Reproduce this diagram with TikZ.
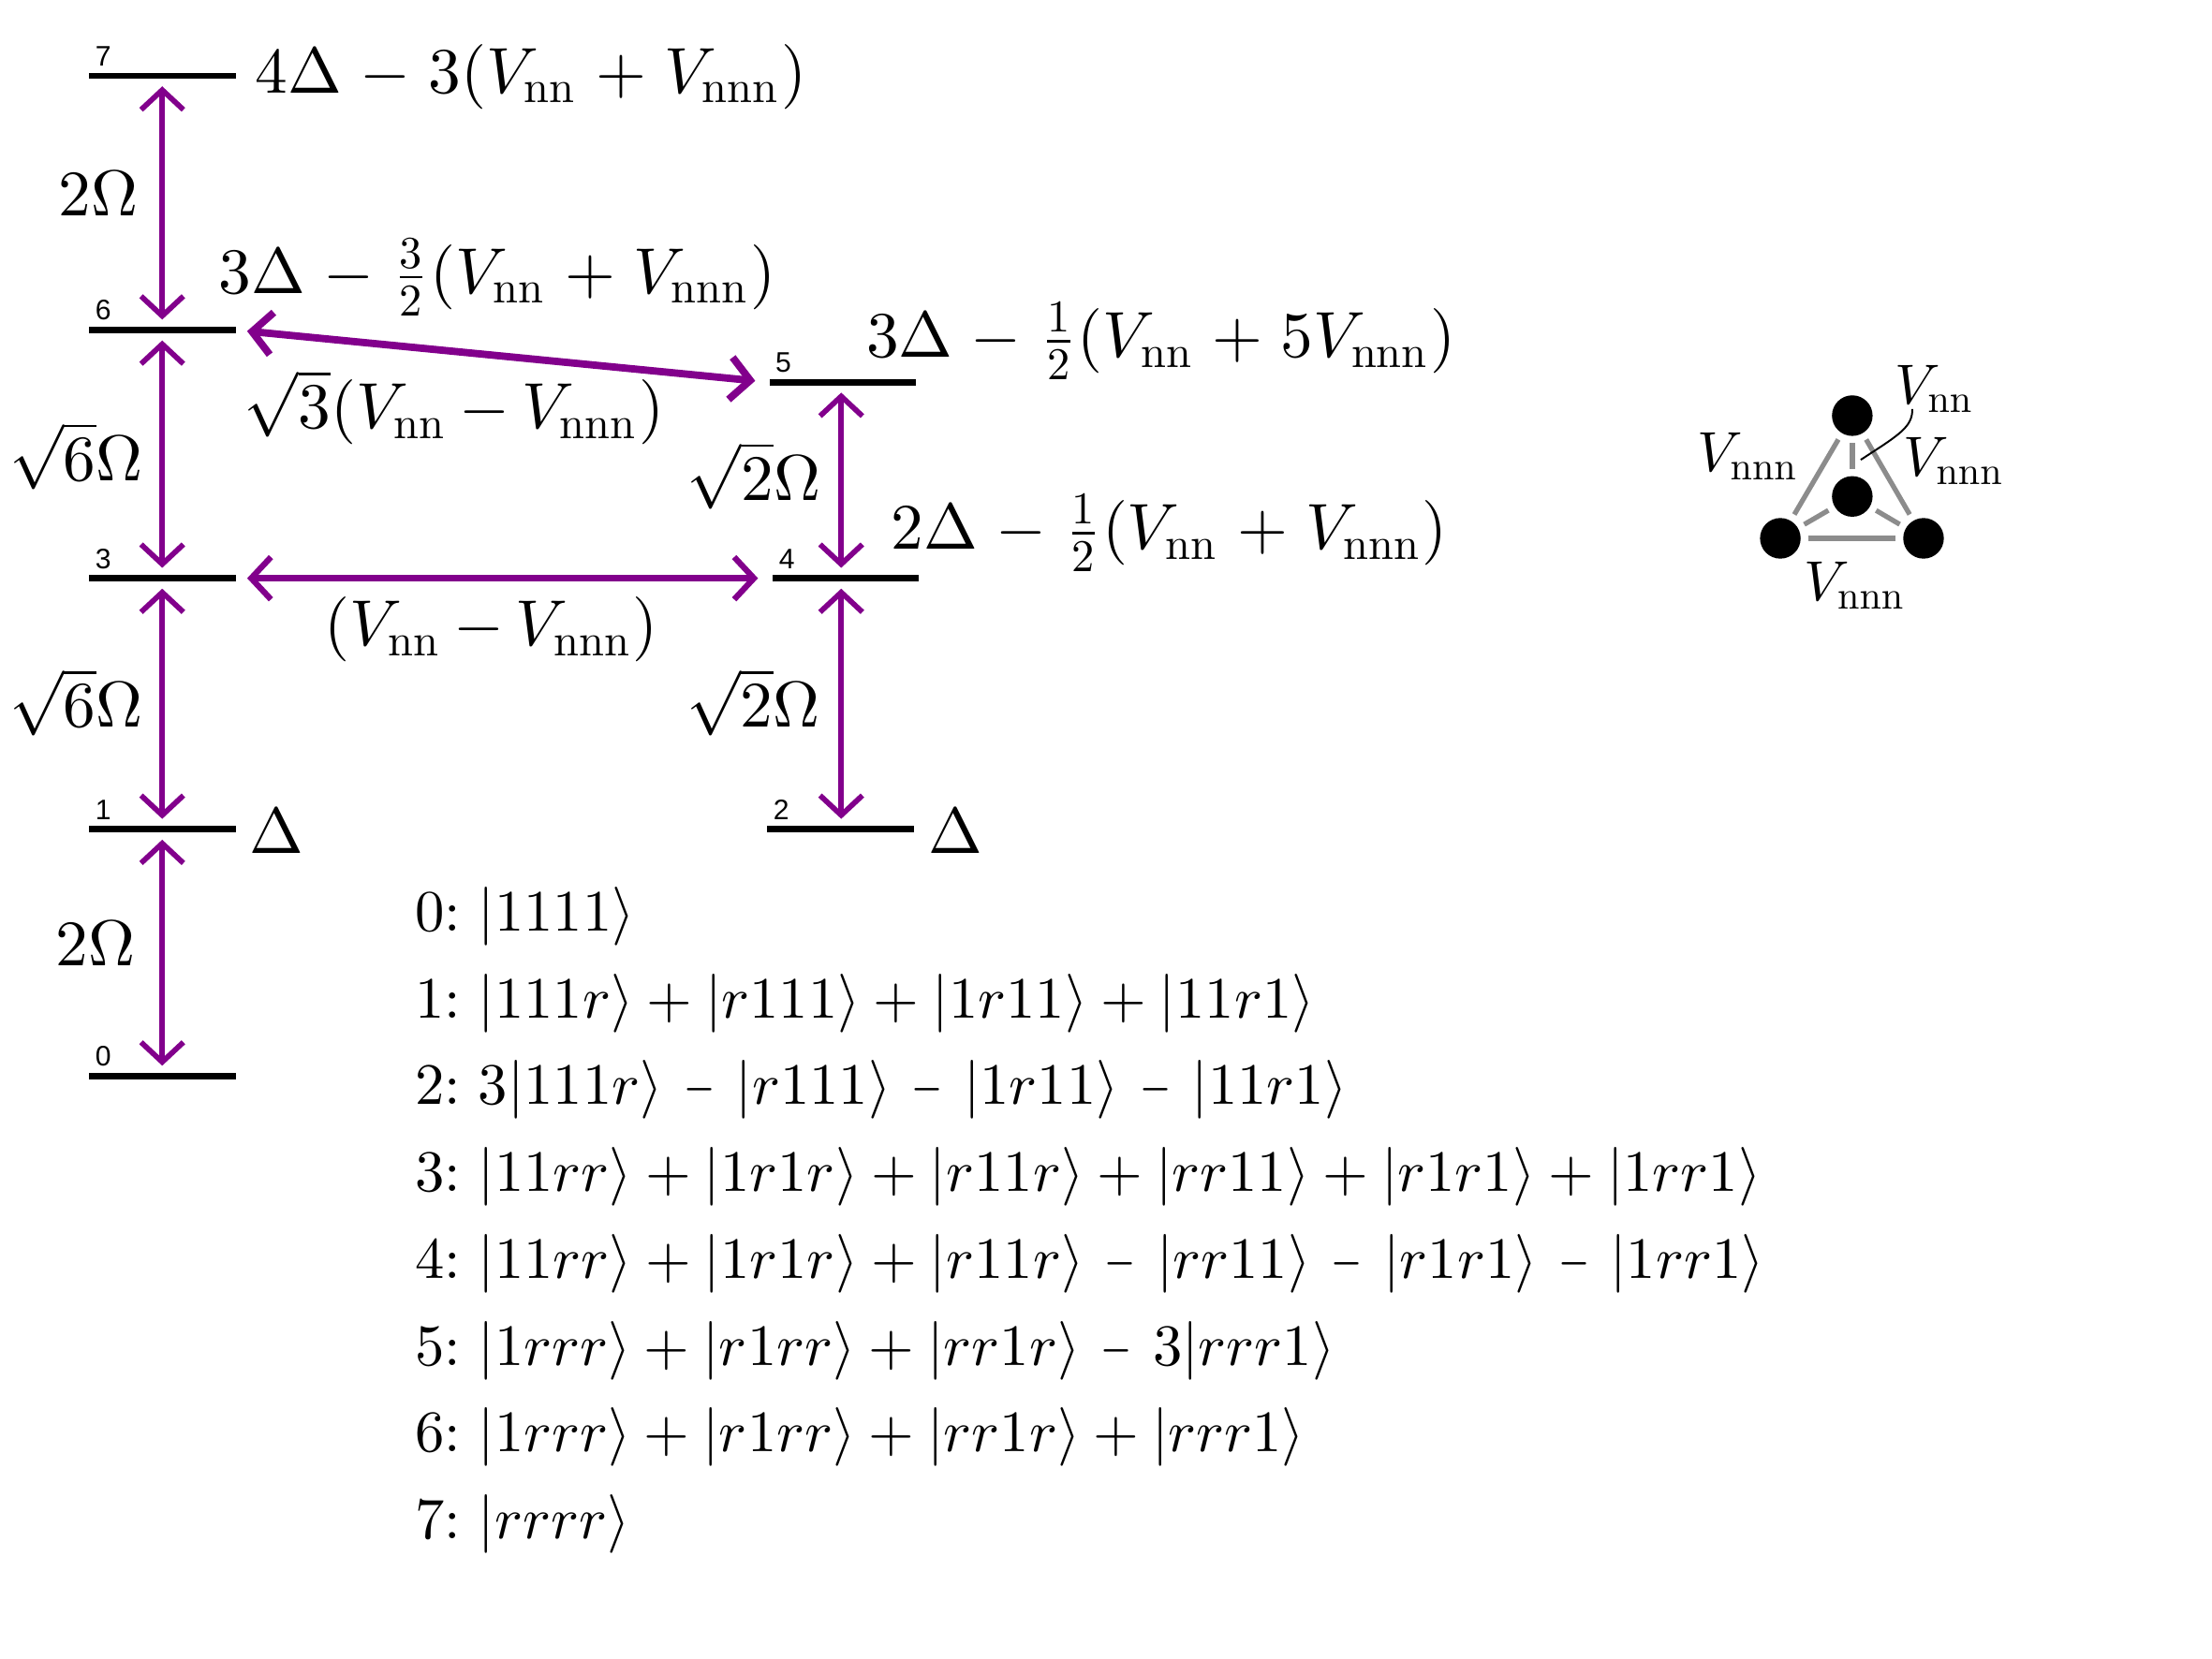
\documentclass[tikz,border=0pt]{standalone}
\usepackage[no-math]{fontspec}
\usepackage{graphicx}
\DeclareFontShape{OT1}{cmr}{m}{n}{<->cmr10}{}
\DeclareFontShape{OML}{cmm}{m}{it}{<->cmmi10}{}
\DeclareFontShape{OMS}{cmsy}{m}{n}{<->cmsy10}{}
\DeclareFontShape{OMX}{cmex}{m}{n}{<->cmex10}{}
\newfontfamily\numfont{Liberation Sans}
\usetikzlibrary{arrows.meta}
\definecolor{purp}{RGB}{130,0,140}
\definecolor{edgegray}{RGB}{140,140,140}
\setlength{\nulldelimiterspace}{5.5pt}
\setlength{\scriptspace}{2.3pt}
\newcommand{\Vnn}{V_{\mathrm{nn}}}
\newcommand{\Vnnn}{V_{\mathrm{nnn}}}
\newcommand{\PL}{\mskip1mu+\mskip1mu}
\newcommand{\MI}{\mskip1mu-\mskip1mu}
\newcommand{\MT}{\mskip-0.7mu-\mskip-0.7mu}
\newcommand{\kt}[1]{|#1\rangle}
\newcommand{\Dm}{\mskip2.4mu\mathbin{\scalebox{0.68}[1]{$-$}}\mskip2.4mu}
\newcommand{\ST}[1]{#1{:}\ }
\begin{document}
\begin{tikzpicture}[x=1pt,y=-1pt,
 lvl/.style={rectangle, fill=black, inner sep=0pt, minimum height=4.4pt, minimum width=104pt},
 num/.style={inner sep=0pt, anchor=base west, font=\numfont\fontsize{20}{24}\selectfont},
 lab/.style={inner sep=0pt, font=\fontsize{46}{55}\selectfont},
 st/.style={inner sep=0pt, anchor=base west, font=\fontsize{41.6}{50}\selectfont},
 tl/.style={inner sep=0pt, anchor=base west, font=\fontsize{40}{48}\selectfont},
 cpl/.style={draw=purp, line width=3.8pt, {Straight Barb[length=14pt,width=30pt]}-{Straight Barb[length=14pt,width=30pt]}, shorten <=5pt, shorten >=5pt},
 dot/.style={circle, fill=black, inner sep=0pt, minimum size=28.8pt},
 edge/.style={draw=edgegray, line width=3.5pt, shorten <=5pt, shorten >=5pt},
]
\useasboundingbox (0,0) rectangle (1568,1176);

% energy levels
\node[lvl] (L7) at (115,53.8) {};
\node[lvl] (L6) at (115,234) {};
\node[lvl] (L3) at (115,410) {};
\node[lvl] (L1) at (115,588) {};
\node[lvl] (L0) at (115,763) {};
\node[lvl] (L5) at (597.5,271) {};
\node[lvl] (L4) at (599.5,410) {};
\node[lvl] (L2) at (596,588) {};

% level numbers
\node[num] (n7) at (67.5,46.8) {7};
\node[num] (n6) at (67.5,227) {6};
\node[num] (n3) at (67.5,403) {3};
\node[num] (n1) at (67.5,581) {1};
\node[num] (n0) at (67.5,756) {0};
\node[num] (n5) at (549.5,264) {5};
\node[num] (n4) at (552,403) {4};
\node[num] (n2) at (548,581) {2};

% couplings
\coordinate (xr) at (596.3,0);
\draw[cpl] (L7.south) -- (L6.north);
\draw[cpl] (L6.south) -- (L3.north);
\draw[cpl] (L3.south) -- (L1.north);
\draw[cpl] (L1.south) -- (L0.north);
\draw[cpl] (L5.south -| xr) -- (L4.north -| xr);
\draw[cpl] (L4.south -| xr) -- (L2.north -| xr);
\draw[cpl, line width=5.2pt, shorten <=8pt, shorten >=10pt] (L6.east) -- (L5.west);
\draw[cpl, line width=4.2pt, shorten <=8pt, shorten >=10pt] (L3.east) -- (L4.west);

% labels
\node[lab, anchor=base west] (e7) at (181,66) {$4\Delta \MI 3(\Vnn \PL \Vnnn)$};
\node[lab, anchor=base east] (w76) at (98,153) {$2\Omega$};
\node[lab, anchor=base west] (e6) at (155,208) {$3\Delta \MI \frac{3}{2}(\Vnn \PL \Vnnn)$};
\node[lab, anchor=base west] (c65) at (173,304) {$\sqrt{3}(\Vnn\MT\Vnnn)$};
\node[lab, anchor=base west] (e5) at (614,253.4) {$3\Delta \MI \frac{1}{2}(\Vnn \PL 5\Vnnn)$};
\node[lab, anchor=base east] (w63) at (101.5,341) {$\sqrt{6}\Omega$};
\node[lab, anchor=base east] (w54) at (582,355) {$\sqrt{2}\Omega$};
\node[lab, anchor=base west] (e4) at (631.4,389.5) {$2\Delta \MI \frac{1}{2}(\Vnn \PL \Vnnn)$};
\node[lab, anchor=base west] (c34) at (230,458) {$(\Vnn\MT\Vnnn)$};
\node[lab, anchor=base east] (w31) at (101.5,515.7) {$\sqrt{6}\Omega$};
\node[lab, anchor=base east] (w42) at (581.5,515.7) {$\sqrt{2}\Omega$};
\node[lab, anchor=base west] (e1) at (177,605) {$\Delta$};
\node[lab, anchor=base west] (e2) at (658,605) {$\Delta$};
\node[lab, anchor=base east] (w10) at (96,684.6) {$2\Omega$};

% states
\node[st] (s0) at (294,660) {$\ST{0}\kt{1111}$};
\node[st] (s1) at (294,721.6) {$\ST{1}\kt{111r}+\kt{r111}+\kt{1r11}+\kt{11r1}$};
\node[st] (s2) at (294,783.2) {$\ST{2}3\kt{111r}\Dm\kt{r111}\Dm\kt{1r11}\Dm\kt{11r1}$};
\node[st] (s3) at (294,844.8) {$\ST{3}\kt{11rr}+\kt{1r1r}+\kt{r11r}+\kt{rr11}+\kt{r1r1}+\kt{1rr1}$};
\node[st] (s4) at (294,906.4) {$\ST{4}\kt{11rr}+\kt{1r1r}+\kt{r11r}\Dm\kt{rr11}\Dm\kt{r1r1}\Dm\kt{1rr1}$};
\node[st] (s5) at (294,968) {$\ST{5}\kt{1rrr}+\kt{r1rr}+\kt{rr1r}\Dm 3\kt{rrr1}$};
\node[st] (s6) at (294,1029.6) {$\ST{6}\kt{1rrr}+\kt{r1rr}+\kt{rr1r}+\kt{rrr1}$};
\node[st] (s7) at (294,1091.2) {$\ST{7}\kt{rrrr}$};

% tetrahedron
\node[dot] (T) at (1313,294.7) {};
\node[dot] (C) at (1313,352) {};
\node[dot] (BL) at (1262,381.7) {};
\node[dot] (BR) at (1363.5,381.7) {};
\draw[edge] (T) -- (BL);
\draw[edge] (T) -- (BR);
\draw[edge] (BL) -- (BR);
\draw[edge] (C) -- (T);
\draw[edge] (C) -- (BL);
\draw[edge] (C) -- (BR);
\node[tl] (tnn) at (1343,286.6) {$\Vnn$};
\node[tl] (tlv) at (1203,334) {$\Vnnn$};
\node[tl] (trv) at (1349,337.3) {$\Vnnn$};
\node[tl] (tbv) at (1279,426) {$\Vnnn$};
\coordinate (p1) at (1355.5,290);
\coordinate (p2) at (1319,326);
\draw[line width=1.3pt] (p1) .. controls (1356,303) and (1345,309) .. (p2);
\end{tikzpicture}
\end{document}
